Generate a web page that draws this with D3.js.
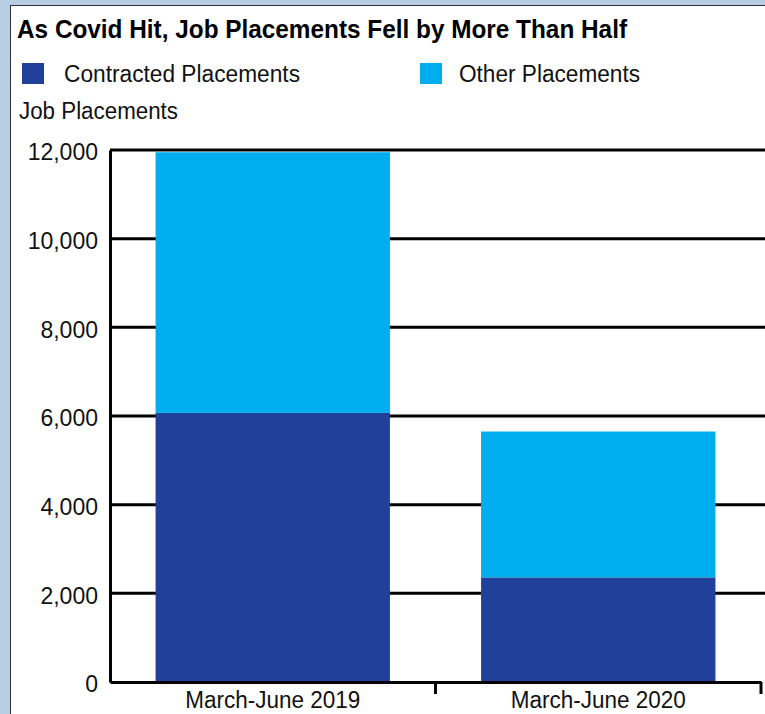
<!DOCTYPE html>
<html>
<head>
<meta charset="utf-8">
<script src="https://cdn.jsdelivr.net/npm/d3@7"></script>
<style>
  body { margin: 0; background: #b9cde5; }
  svg { display: block; }
  text { font-family: "Liberation Sans", Arial, sans-serif; }
</style>
</head>
<body>
<svg width="765" height="714"></svg>
<script>
// data
const periods = ["March-June 2019", "March-June 2020"];
const contracted = [6070, 2360];
const other = [5880, 3290];
const seriesNames = ["Contracted Placements", "Other Placements"];
const seriesColors = ["#21409a", "#00aeef"];
const yTicks = [0, 2000, 4000, 6000, 8000, 10000, 12000];

const svg = d3.select("svg");

// white panel with thin border
svg.append("rect")
  .attr("x", 10.5).attr("y", 5.5)
  .attr("width", 800).attr("height", 800)
  .attr("fill", "#fff")
  .attr("stroke", "#333").attr("stroke-width", 1);

// condensed look: squeeze text to the widths in the original
function narrowText(sel, w) {
  sel.attr("textLength", w).attr("lengthAdjust", "spacingAndGlyphs");
}

svg.append("text")
  .attr("x", 17).attr("y", 38)
  .attr("font-size", 25).attr("font-weight", "bold")
  .attr("fill", "#000")
  .text("As Covid Hit, Job Placements Fell by More Than Half")
  .call(narrowText, 610);

// legend
const legX = [22, 420];
const legTextX = [64, 459];
const legW = [236, 181];
seriesNames.forEach(function(name, i) {
  svg.append("rect")
    .attr("x", legX[i]).attr("y", 63)
    .attr("width", 22).attr("height", 21)
    .attr("fill", seriesColors[i]);
  svg.append("text")
    .attr("x", legTextX[i]).attr("y", 82)
    .attr("font-size", 23).attr("fill", "#111")
    .text(name)
    .call(narrowText, legW[i]);
});

svg.append("text")
  .attr("x", 19).attr("y", 119)
  .attr("font-size", 23).attr("fill", "#111")
  .text("Job Placements")
  .call(narrowText, 159);

const margin = { left: 110, right: 761, top: 150, bottom: 682 };

const x = d3.scaleBand()
  .domain(periods)
  .range([margin.left, margin.right])
  .padding(0);

const y = d3.scaleLinear()
  .domain([0, 12000])
  .range([margin.bottom, margin.top]);

// gridlines
svg.append("g")
  .selectAll("line")
  .data(yTicks.filter(d => d > 0))
  .enter()
  .append("line")
  .attr("x1", margin.left).attr("x2", 765)
  .attr("y1", d => y(d)).attr("y2", d => y(d))
  .attr("stroke", "#000").attr("stroke-width", 3);

// stacked bars
const rows = periods.map(function(p, i) {
  return { period: p, contracted: contracted[i], other: other[i] };
});
const stack = d3.stack().keys(["contracted", "other"])(rows);

const barW = x.bandwidth() * 0.72;

svg.append("g")
  .selectAll("g")
  .data(stack)
  .enter()
  .append("g")
  .attr("fill", (d, i) => seriesColors[i])
  .selectAll("rect")
  .data(d => d)
  .enter()
  .append("rect")
  .attr("x", d => x(d.data.period) + (x.bandwidth() - barW) / 2)
  .attr("y", d => y(d[1]))
  .attr("width", barW)
  .attr("height", d => y(d[0]) - y(d[1]));

// y axis
const yAxis = svg.append("g")
  .attr("transform", "translate(" + margin.left + ",0)")
  .call(d3.axisLeft(y).tickValues(yTicks).tickFormat(d3.format(",")).tickSize(0).tickPadding(12));
yAxis.select(".domain").attr("stroke", "#000").attr("stroke-width", 3);
yAxis.selectAll("text")
  .attr("font-family", null)
  .attr("font-size", 23).attr("fill", "#111")
  .attr("dy", "0.42em");

// x axis
const xAxis = svg.append("g")
  .attr("transform", "translate(0," + margin.bottom + ")")
  .call(d3.axisBottom(x).tickSize(0).tickPadding(4));
xAxis.select(".domain").attr("stroke", "#000").attr("stroke-width", 3);
xAxis.selectAll("text")
  .attr("font-family", null)
  .attr("font-size", 23).attr("fill", "#111")
  .attr("dy", "0.95em")
  .call(narrowText, 175);

// separator ticks between categories
svg.append("g")
  .selectAll("line")
  .data(periods)
  .enter()
  .append("line")
  .attr("x1", d => x(d) + x.bandwidth()).attr("x2", d => x(d) + x.bandwidth())
  .attr("y1", margin.bottom).attr("y2", margin.bottom + 12)
  .attr("stroke", "#000").attr("stroke-width", 3);
</script>
</body>
</html>
